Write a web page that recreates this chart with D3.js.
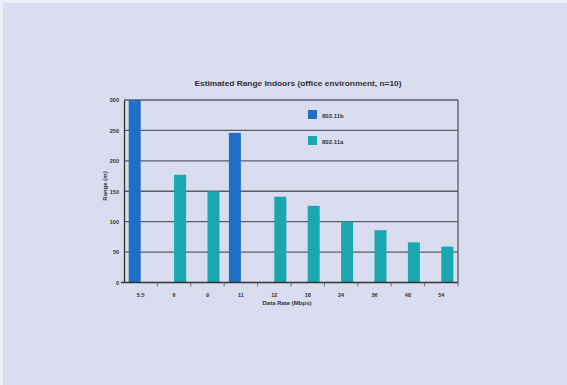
<!DOCTYPE html>
<html>
<head>
<meta charset="utf-8">
<script src="https://cdn.jsdelivr.net/npm/d3@7"></script>
<style>
  html, body { margin: 0; padding: 0; background: #d9ddef; }
  svg { display: block; }
  text { font-family: "Liberation Sans", Arial, sans-serif; }
</style>
</head>
<body>
<svg id="chart" width="567" height="385"></svg>
<script>
const categories = ["5.5", "6", "9", "11", "12", "18", "24", "36", "48", "54"];
const seriesNames = ["802.11b", "802.11a"];
const series80211b = [300, null, null, 246, null, null, null, null, null, null];
const series80211a = [null, 177, 150, null, 141, 126, 100, 86, 66, 59];
const yTicks = [0, 50, 100, 150, 200, 250, 300];
const colors = ["#1f6fc4", "#1aa7b0"];
const titleText = "Estimated Range Indoors (office environment, n=10)";
const xTitle = "Data Rate (Mbps)";
const yTitle = "Range (m)";

(function () {
const svg = d3.select("#chart");
svg.append("rect").attr("x", 0).attr("y", 0).attr("width", 567).attr("height", 385).attr("fill", "#eceef7");
svg.append("rect").attr("x", 3).attr("y", 3).attr("width", 564).attr("height", 382).attr("fill", "#d9ddef");

const pLeft = 124, pRight = 458, pTop = 100, pBottom = 282.5;

const x0 = d3.scaleBand().domain(categories).range([pLeft, pRight]).paddingInner(0.28).paddingOuter(0.14);
const x1 = d3.scaleBand().domain(seriesNames).range([0, x0.bandwidth()]).padding(0);
const y = d3.scaleLinear().domain([0, 300]).range([pBottom, pTop]);

svg.append("g").selectAll("line").data(yTicks.filter(d => d > 0)).join("line")
  .attr("x1", pLeft).attr("x2", pRight)
  .attr("y1", d => y(d)).attr("y2", d => y(d))
  .attr("stroke", "#5d5d68").attr("stroke-width", 1.3);

svg.append("line").attr("x1", pRight).attr("x2", pRight).attr("y1", pTop).attr("y2", pBottom)
  .attr("stroke", "#5d5d68").attr("stroke-width", 1.3);

const data = [];
categories.forEach((c, i) => {
  if (series80211b[i] != null) data.push({ c, s: seriesNames[0], v: series80211b[i] });
  if (series80211a[i] != null) data.push({ c, s: seriesNames[1], v: series80211a[i] });
});
const barW = 12;
svg.append("g").selectAll("rect").data(data).join("rect")
  .attr("x", d => x0(d.c) + x1(d.s) + (x1.bandwidth() - barW) / 2)
  .attr("width", barW)
  .attr("y", d => y(d.v))
  .attr("height", d => y(0) - y(d.v))
  .attr("fill", d => colors[seriesNames.indexOf(d.s)]);

const yAxis = svg.append("g").attr("transform", `translate(${pLeft},0)`)
  .call(d3.axisLeft(y).tickValues(yTicks).tickSize(0).tickPadding(5));
yAxis.select(".domain").attr("stroke", "#333").attr("stroke-width", 1.3);
yAxis.selectAll("text").attr("font-size", 5.5).attr("font-weight", "bold").attr("fill", "#333");

const xAxisG = svg.append("g").attr("transform", `translate(0,${pBottom})`);
xAxisG.append("line").attr("x1", pLeft - 3).attr("x2", pRight).attr("y1", 0).attr("y2", 0)
  .attr("stroke", "#333").attr("stroke-width", 1.3);
const step = x0.step();
const boundaries = categories.map(c => x0(c) + x0.bandwidth() + step * x0.paddingInner() / 2);
xAxisG.selectAll(".tk").data(boundaries).join("line").attr("class", "tk")
  .attr("x1", d => d).attr("x2", d => d).attr("y1", 0).attr("y2", 4)
  .attr("stroke", "#555").attr("stroke-width", 0.8);
xAxisG.selectAll(".lbl").data(categories).join("text").attr("class", "lbl")
  .attr("x", d => x0(d) + x0.bandwidth() / 2).attr("y", 14)
  .attr("text-anchor", "middle").attr("font-size", 5.5).attr("font-weight", "bold").attr("fill", "#333")
  .text(d => d);

svg.append("text").attr("x", 287).attr("y", 305).attr("text-anchor", "middle")
  .attr("font-size", 6).attr("font-weight", "bold").attr("fill", "#333").text(xTitle);
svg.append("text").attr("transform", "translate(107,186) rotate(-90)").attr("text-anchor", "middle")
  .attr("font-size", 6).attr("font-weight", "bold").attr("fill", "#333").text(yTitle);

svg.append("text").attr("x", 298).attr("y", 86).attr("text-anchor", "middle")
  .attr("font-size", 7).attr("font-weight", "bold").attr("fill", "#333")
  .attr("textLength", 207).attr("lengthAdjust", "spacingAndGlyphs").text(titleText);

const legend = svg.append("g");
seriesNames.forEach((s, i) => {
  const ly = 110 + i * 26;
  legend.append("rect").attr("x", 308).attr("y", ly).attr("width", 9).attr("height", 9).attr("fill", colors[i]);
  legend.append("text").attr("x", 322).attr("y", ly + 7.5).attr("font-size", 6).attr("font-weight", "bold")
    .attr("fill", "#333").text(s);
});
})();
</script>
</body>
</html>
